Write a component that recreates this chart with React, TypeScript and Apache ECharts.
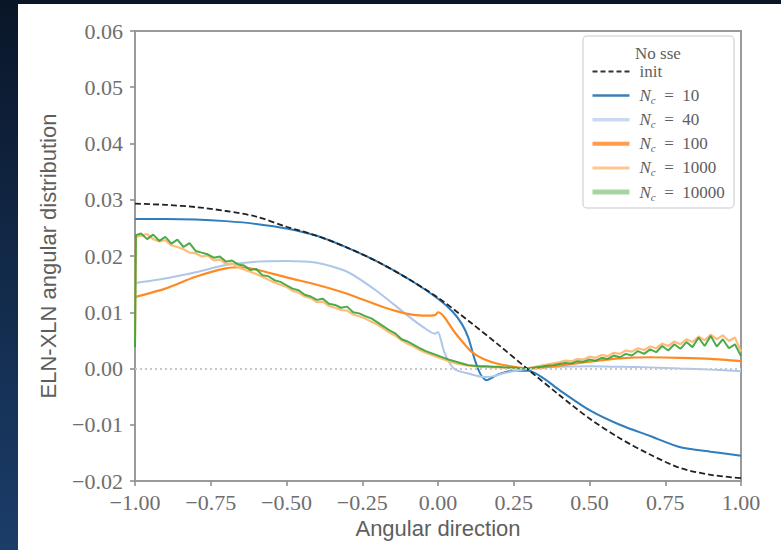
import React, { useEffect, useRef } from 'react';
import * as echarts from 'echarts';

// ---- data ----
const INIT_X = [-1, -0.9, -0.8, -0.7, -0.6, -0.5, -0.4, -0.3, -0.2, -0.1, 0, 0.1, 0.2, 0.3, 0.4, 0.5, 0.6, 0.7, 0.8, 0.9, 1];
const INIT_Y = [0.0293, 0.0291, 0.0287, 0.028, 0.027, 0.0252, 0.0236, 0.0215, 0.019, 0.016, 0.0126, 0.0085, 0.0042, -0.0003, -0.0047, -0.0089, -0.0124, -0.0153, -0.0177, -0.0189, -0.0195];

const NC10_X = [-1, -0.9, -0.8, -0.7, -0.6, -0.5, -0.4, -0.3, -0.2, -0.1, 0, 0.05, 0.08, 0.1, 0.12, 0.14, 0.16, 0.18, 0.2, 0.25, 0.3, 0.35, 0.4, 0.5, 0.6, 0.7, 0.8, 0.9, 1];
const NC10_Y = [0.0266, 0.0266, 0.0265, 0.0262, 0.0257, 0.0249, 0.0236, 0.0215, 0.019, 0.016, 0.0124, 0.01, 0.0078, 0.0055, 0.0018, -0.001, -0.0021, -0.0016, -0.001, -0.0004, -0.0004, -0.0018, -0.0038, -0.0074, -0.01, -0.012, -0.014, -0.0148, -0.0155];

const NC40_X = [-1, -0.9, -0.8, -0.7, -0.6, -0.5, -0.4, -0.3, -0.2, -0.1, -0.05, -0.01, 0, 0.01, 0.02, 0.04, 0.06, 0.1, 0.15, 0.18, 0.22, 0.26, 0.3, 0.4, 0.5, 0.6, 0.7, 0.8, 0.9, 1];
const NC40_Y = [0.0152, 0.016, 0.0171, 0.0184, 0.019, 0.0191, 0.0188, 0.0172, 0.0137, 0.0094, 0.0074, 0.0062, 0.0065, 0.005, 0.003, 0.0008, -0.0003, -0.0009, -0.0015, -0.0014, -0.0008, -0.0004, 0, 0.0003, 0.0004, 0.0003, 0.0002, 0, -0.0002, -0.0005];

const NC100_X = [-1, -0.9, -0.8, -0.7, -0.65, -0.6, -0.5, -0.4, -0.3, -0.2, -0.15, -0.1, -0.05, -0.01, 0, 0.02, 0.05, 0.08, 0.11, 0.15, 0.2, 0.25, 0.3, 0.35, 0.4, 0.5, 0.6, 0.7, 0.8, 0.9, 1];
const NC100_Y = [0.0127, 0.0142, 0.0163, 0.0178, 0.018, 0.0176, 0.0162, 0.0149, 0.0133, 0.0113, 0.0104, 0.0097, 0.0094, 0.0095, 0.01, 0.0092, 0.0068, 0.0048, 0.003, 0.0017, 0.0008, 0.0003, 0, 0.0002, 0.0005, 0.0012, 0.0018, 0.002, 0.0019, 0.0017, 0.0013];

// noisy runs: first two samples at x = -1 and -0.997, then every 0.02 from -0.98 to 1.00
const NC1000_Y = [
  0.0045, 0.0234,
  0.0236, 0.0239, 0.023, 0.0226, 0.0228, 0.0219, 0.0216, 0.0212, 0.0206, 0.0205,
  0.0199, 0.0201, 0.0192, 0.0194, 0.0186, 0.0187, 0.018, 0.0176, 0.0172, 0.0168,
  0.0163, 0.0158, 0.0153, 0.0149, 0.0145, 0.0138, 0.0135, 0.0128, 0.0125, 0.0118,
  0.0119, 0.0111, 0.0108, 0.0104, 0.0103, 0.0096, 0.0093, 0.0089, 0.0083, 0.0078,
  0.0071, 0.0064, 0.0058, 0.005, 0.0044, 0.0039, 0.0033, 0.0028, 0.0024, 0.002,
  0.0016, 0.0012, 0.0009, 0.0007, 0.0005, 0.0004, 0.0003, 0.0003, 0.0002, 0.0002,
  0.0001, 0.0001, 0.0, 0.0, 0.0001, 0.0003, 0.0005, 0.0007, 0.0009, 0.0011,
  0.0014, 0.0013, 0.0017, 0.0016, 0.0021, 0.0019, 0.0024, 0.0022, 0.0028, 0.0026,
  0.0032, 0.003, 0.0036, 0.0033, 0.0039, 0.0036, 0.0044, 0.004, 0.0048, 0.0043,
  0.0052, 0.0047, 0.0057, 0.005, 0.006, 0.0052, 0.0059, 0.0049, 0.0055, 0.003,
];
const NC10000_Y = [
  0.0038, 0.0237,
  0.024, 0.023, 0.0238, 0.0227, 0.0234, 0.0222, 0.0229, 0.0216, 0.0223, 0.0209,
  0.0206, 0.0203, 0.0197, 0.0199, 0.019, 0.0192, 0.0185, 0.0183, 0.0175, 0.0177,
  0.0166, 0.0164, 0.0157, 0.0154, 0.0148, 0.0142, 0.0139, 0.0131, 0.0128, 0.0122,
  0.0124, 0.0115, 0.0113, 0.0108, 0.011, 0.01, 0.0098, 0.0093, 0.0089, 0.0082,
  0.0075, 0.0068, 0.0062, 0.0052, 0.0048, 0.0042, 0.0036, 0.0031, 0.0027, 0.0023,
  0.0019, 0.0015, 0.0012, 0.0009, 0.0006, 0.0005, 0.0004, 0.0004, 0.0003, 0.0003,
  0.0002, 0.0002, 0.0001, 0.0, 0.0, 0.0002, 0.0003, 0.0005, 0.0006, 0.0008,
  0.001, 0.0009, 0.0013, 0.0012, 0.0016, 0.0014, 0.0019, 0.0017, 0.0023, 0.002,
  0.0026, 0.0023, 0.0031, 0.0026, 0.0034, 0.0029, 0.004, 0.0032, 0.0043, 0.0035,
  0.0047, 0.0038, 0.0055, 0.004, 0.0058, 0.0039, 0.0052, 0.0036, 0.0043, 0.0022,
];
const NOISY_X = [-1, -0.997, ...Array.from({ length: 100 }, (_, k) => Number((-0.98 + 0.02 * k).toFixed(2)))];

const SERIES_NAMES = ['init', 'N_c = 10', 'N_c = 40', 'N_c = 100', 'N_c = 1000', 'N_c = 10000'];
const LEGEND_TITLE = 'No sse';

const zip = (xs: number[], ys: number[]) => xs.map((x, i) => [x, ys[i]]);
const fmt = (v: number) => {
  const s = Math.abs(v).toFixed(2);
  return v < -1e-9 ? '\u2212' + s : s;
};

const SERIF = '"Liberation Serif", "DejaVu Serif", serif';
const SANS = '"Liberation Sans", "DejaVu Sans", sans-serif';
const TXT = '#5e5e5e';

export default function App() {
  const ref = useRef<HTMLDivElement>(null);
  useEffect(() => {
    document.body.style.margin = '0';
    const chart = echarts.init(ref.current!, undefined, { renderer: 'svg' });
    const legendLine = (color: string, width: number, type: any = 'solid') => ({
      itemStyle: { opacity: 0 },
      lineStyle: { color, width, type, opacity: 1 },
    });
    chart.setOption({
      animation: false,
      grid: { left: 135, right: 40, top: 31, bottom: 69, show: true, borderColor: '#9a9a9a', borderWidth: 2, backgroundColor: 'transparent' },
      xAxis: {
        type: 'value', min: -1, max: 1, interval: 0.25,
        name: 'Angular direction', nameLocation: 'middle', nameGap: 32,
        nameTextStyle: { fontFamily: SANS, fontSize: 22, color: TXT },
        axisLine: { show: true, onZero: false, lineStyle: { color: '#9a9a9a', width: 2 } },
        axisTick: { show: true, inside: false, length: 5, lineStyle: { color: '#8a8a8a', width: 1.5 } },
        axisLabel: { formatter: fmt, fontFamily: SERIF, fontSize: 22, color: '#6e6e6e', margin: 10 },
        splitLine: { show: false },
      },
      yAxis: {
        type: 'value', min: -0.02, max: 0.06, interval: 0.01,
        name: 'ELN-XLN angular distribution', nameLocation: 'middle', nameGap: 76,
        nameTextStyle: { fontFamily: SANS, fontSize: 22, color: TXT },
        axisLine: { show: true, onZero: false, lineStyle: { color: '#9a9a9a', width: 2 } },
        axisTick: { show: true, inside: false, length: 5, lineStyle: { color: '#8a8a8a', width: 1.5 } },
        axisLabel: { formatter: fmt, fontFamily: SERIF, fontSize: 22, color: '#6e6e6e', margin: 12 },
        splitLine: { show: false },
      },
      legend: {
        orient: 'vertical', left: 590, top: 63, padding: 0,
        itemWidth: 37, itemHeight: 14, itemGap: 5.6, selectedMode: false,
        textStyle: {
          fontFamily: SERIF, fontSize: 17, color: TXT, padding: [0, 0, 0, 5],
          rich: {
            p: { fontFamily: SERIF, fontSize: 17, lineHeight: 20, color: TXT },
            i: { fontFamily: SERIF, fontSize: 17, fontStyle: 'italic', lineHeight: 20, color: TXT },
            s: { fontFamily: SERIF, fontSize: 11, fontStyle: 'italic', lineHeight: 12, verticalAlign: 'bottom', color: TXT },
          },
        },
        formatter: (name: string) => {
          if (name === 'init') return '{p|init}{s| }';
          const num = name.split('=')[1].trim();
          return `{i|N}{s|c}{p|  =  ${num}}`;
        },
        data: [
          { name: SERIES_NAMES[0], ...legendLine('#333', 2, [5, 3]) },
          { name: SERIES_NAMES[1], ...legendLine('#3a80bd', 2.5) },
          { name: SERIES_NAMES[2], ...legendLine('#c9daf0', 3.5) },
          { name: SERIES_NAMES[3], ...legendLine('#ff9d4a', 4) },
          { name: SERIES_NAMES[4], ...legendLine('#ffc690', 3) },
          { name: SERIES_NAMES[5], ...legendLine('#a6d6a0', 5) },
        ],
      },
      graphic: [
        { type: 'rect', z: 3, shape: { x: 583, y: 36, width: 151, height: 172, r: 4 }, style: { fill: 'rgba(255,255,255,0.85)', stroke: '#dcdcdc', lineWidth: 1.5 } },
        { type: 'text', z: 5, x: 658, y: 53, style: { text: LEGEND_TITLE, fontFamily: SERIF, fontSize: 17, fill: TXT, align: 'center', verticalAlign: 'middle' } },
      ],
      series: [
        {
          name: SERIES_NAMES[1], type: 'line', data: zip(NC10_X, NC10_Y), symbol: 'none', smooth: 0.25, z: 2,
          color: '#2f7dbc', lineStyle: { color: '#2f7dbc', width: 2 },
          markLine: {
            silent: true, symbol: 'none', label: { show: false },
            lineStyle: { color: '#c8c8c8', type: [2, 3], width: 2 },
            data: [{ yAxis: 0 }],
          },
        },
        {
          name: SERIES_NAMES[2], type: 'line', data: zip(NC40_X, NC40_Y), symbol: 'none', smooth: 0.25, z: 2,
          color: '#aec7e8', lineStyle: { color: '#aec7e8', width: 2 },
        },
        {
          name: SERIES_NAMES[3], type: 'line', data: zip(NC100_X, NC100_Y), symbol: 'none', smooth: 0.25, z: 2,
          color: '#ff7f0e', lineStyle: { color: '#ff8a24', width: 2.2 },
        },
        {
          name: SERIES_NAMES[4], type: 'line', data: zip(NOISY_X, NC1000_Y), symbol: 'none', z: 2,
          color: '#ffbb78', lineStyle: { color: '#ffbb78', width: 2.2 },
        },
        {
          name: SERIES_NAMES[5], type: 'line', data: zip(NOISY_X, NC10000_Y), symbol: 'none', z: 2,
          color: '#2ca02c', lineStyle: { color: '#36a336', width: 2, opacity: 0.9 },
        },
        {
          name: SERIES_NAMES[0], type: 'line', data: zip(INIT_X, INIT_Y), symbol: 'none', smooth: 0.3, z: 2,
          color: '#222', lineStyle: { color: '#222', width: 1.8, type: [6, 3] },
        },
      ],
    });
    return () => chart.dispose();
  }, []);
  return (
    <div style={{ position: 'fixed', left: 0, top: 0, width: 781, height: 550, background: 'linear-gradient(180deg, #0a1628 0%, #122a4a 50%, #1b3d69 100%)' }}>
      <div style={{ position: 'absolute', left: 18, top: 4, width: 763, height: 546, background: '#ffffff' }} />
      <div ref={ref} style={{ position: 'absolute', left: 0, top: 0, width: 781, height: 550 }} />
    </div>
  );
}
